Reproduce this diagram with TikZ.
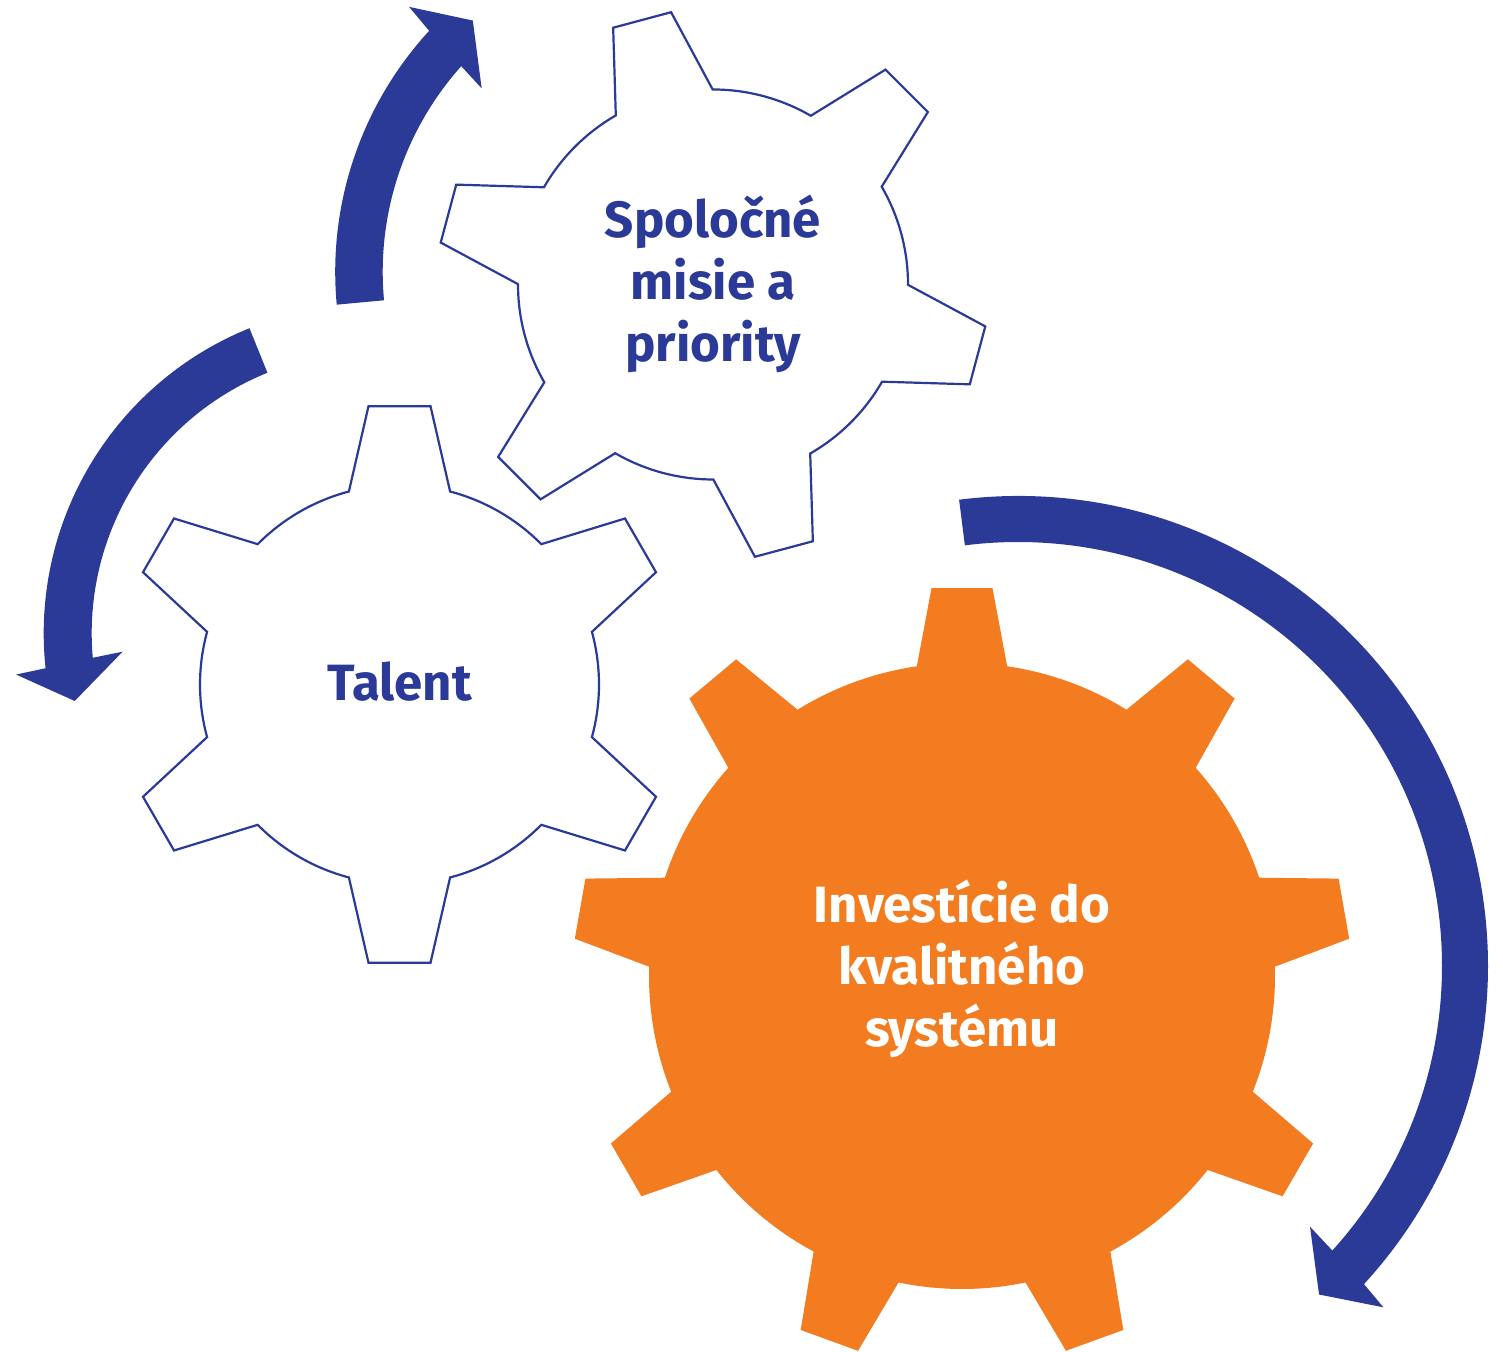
\documentclass[tikz,border=0pt]{standalone}
\usepackage{fontspec}
\setmainfont{Fira Sans}
\definecolor{arrowblue}{RGB}{42,58,150}
\definecolor{gearorange}{RGB}{244,124,32}
\begin{document}
\begin{tikzpicture}[x=1pt,y=1pt,
  gearoutline/.style={draw=arrowblue, line width=2.2pt, fill=white, line join=miter},
  gearsolid/.style={fill=gearorange},
  cyclearrow/.style={fill=arrowblue},
  geartext/.style={font=\fontsize{51}{62}\selectfont\bfseries, align=center, text=arrowblue, inner sep=0pt},
]
\useasboundingbox (0,0) rectangle (1503,1351);

% gear 1 (top)
\begin{scope}[shift={(713,1066.5)}]
\draw[gearoutline] (90.1:195pt) \foreach \t in {105,165,225,285,345,405} { -- ({\t-14.9}:195pt) -- ({\t-6.25}:275.5pt) -- ({\t+6.25}:275.5pt) -- ({\t+14.9}:195pt) arc[start angle={\t+14.9}, end angle={\t+60-14.9}, radius=195pt] } -- cycle;
\end{scope}

% gear 2 (Talent)
\begin{scope}[shift={(399.5,666.5)}]
\draw[gearoutline] (75.3:199.5pt) \foreach \t in {90,150,210,270,330,390} { -- ({\t-14.7}:199.5pt) -- ({\t-6.36}:280pt) -- ({\t+6.36}:280pt) -- ({\t+14.7}:199.5pt) arc[start angle={\t+14.7}, end angle={\t+60-14.7}, radius=199.5pt] } -- cycle;
\end{scope}

% gear 3 (orange)
\begin{scope}[shift={(962,375)}]
\fill[gearsolid] (81.7:313pt) \foreach \t in {90,130,170,210,250,290,330,370,410} { -- ({\t-8.3}:313pt) -- ({\t-4.5}:389pt) -- ({\t+4.5}:389pt) -- ({\t+8.3}:313pt) arc[start angle={\t+8.3}, end angle={\t+40-8.3}, radius=313pt] } -- cycle;
\end{scope}

% arrow 1 (around top gear)
\begin{scope}[shift={(691.2,1079.2)}]
\fill[cyclearrow] (185.3:356pt) arc[start angle=185.3, end angle=137.4, radius=356pt] -- (136.8:387pt) -- (131:332.9pt) -- (138.8:278.5pt) -- (138.2:308.5pt) arc[start angle=138.2, end angle=185.3, radius=308.5pt] -- cycle;
\end{scope}

% arrow 2 (around Talent gear)
\begin{scope}[shift={(372.7,717.7)}]
\fill[cyclearrow] (112:329pt) arc[start angle=112, end angle=186.1, radius=329pt] -- (186.6:359pt) -- (192.8:305.6pt) -- (184.2:250.7pt) -- (185:281pt) arc[start angle=185, end angle=112, radius=281pt] -- cycle;
\end{scope}

% arrow 3 (around orange gear)
\begin{scope}[shift={(1018,385)}]
\fill[cyclearrow] (97.2:470pt) arc[start angle=97.2, end angle=-42.6, radius=470pt] -- (-43.05:500pt) -- (-47.5:445.6pt) -- (-41.76:391.5pt) -- (-42.15:424pt) arc[start angle=-42.15, end angle=97.2, radius=424pt] -- cycle;
\end{scope}

% labels
\node[geartext] (mission) at (713,1067) {Spoločné\\misie a\\priority};
\node[geartext] (talent) at (399.5,669) {Talent};
\node[geartext, text=white] (invest) at (962,382) {Investície do\\kvalitného\\systému};
\end{tikzpicture}
\end{document}
